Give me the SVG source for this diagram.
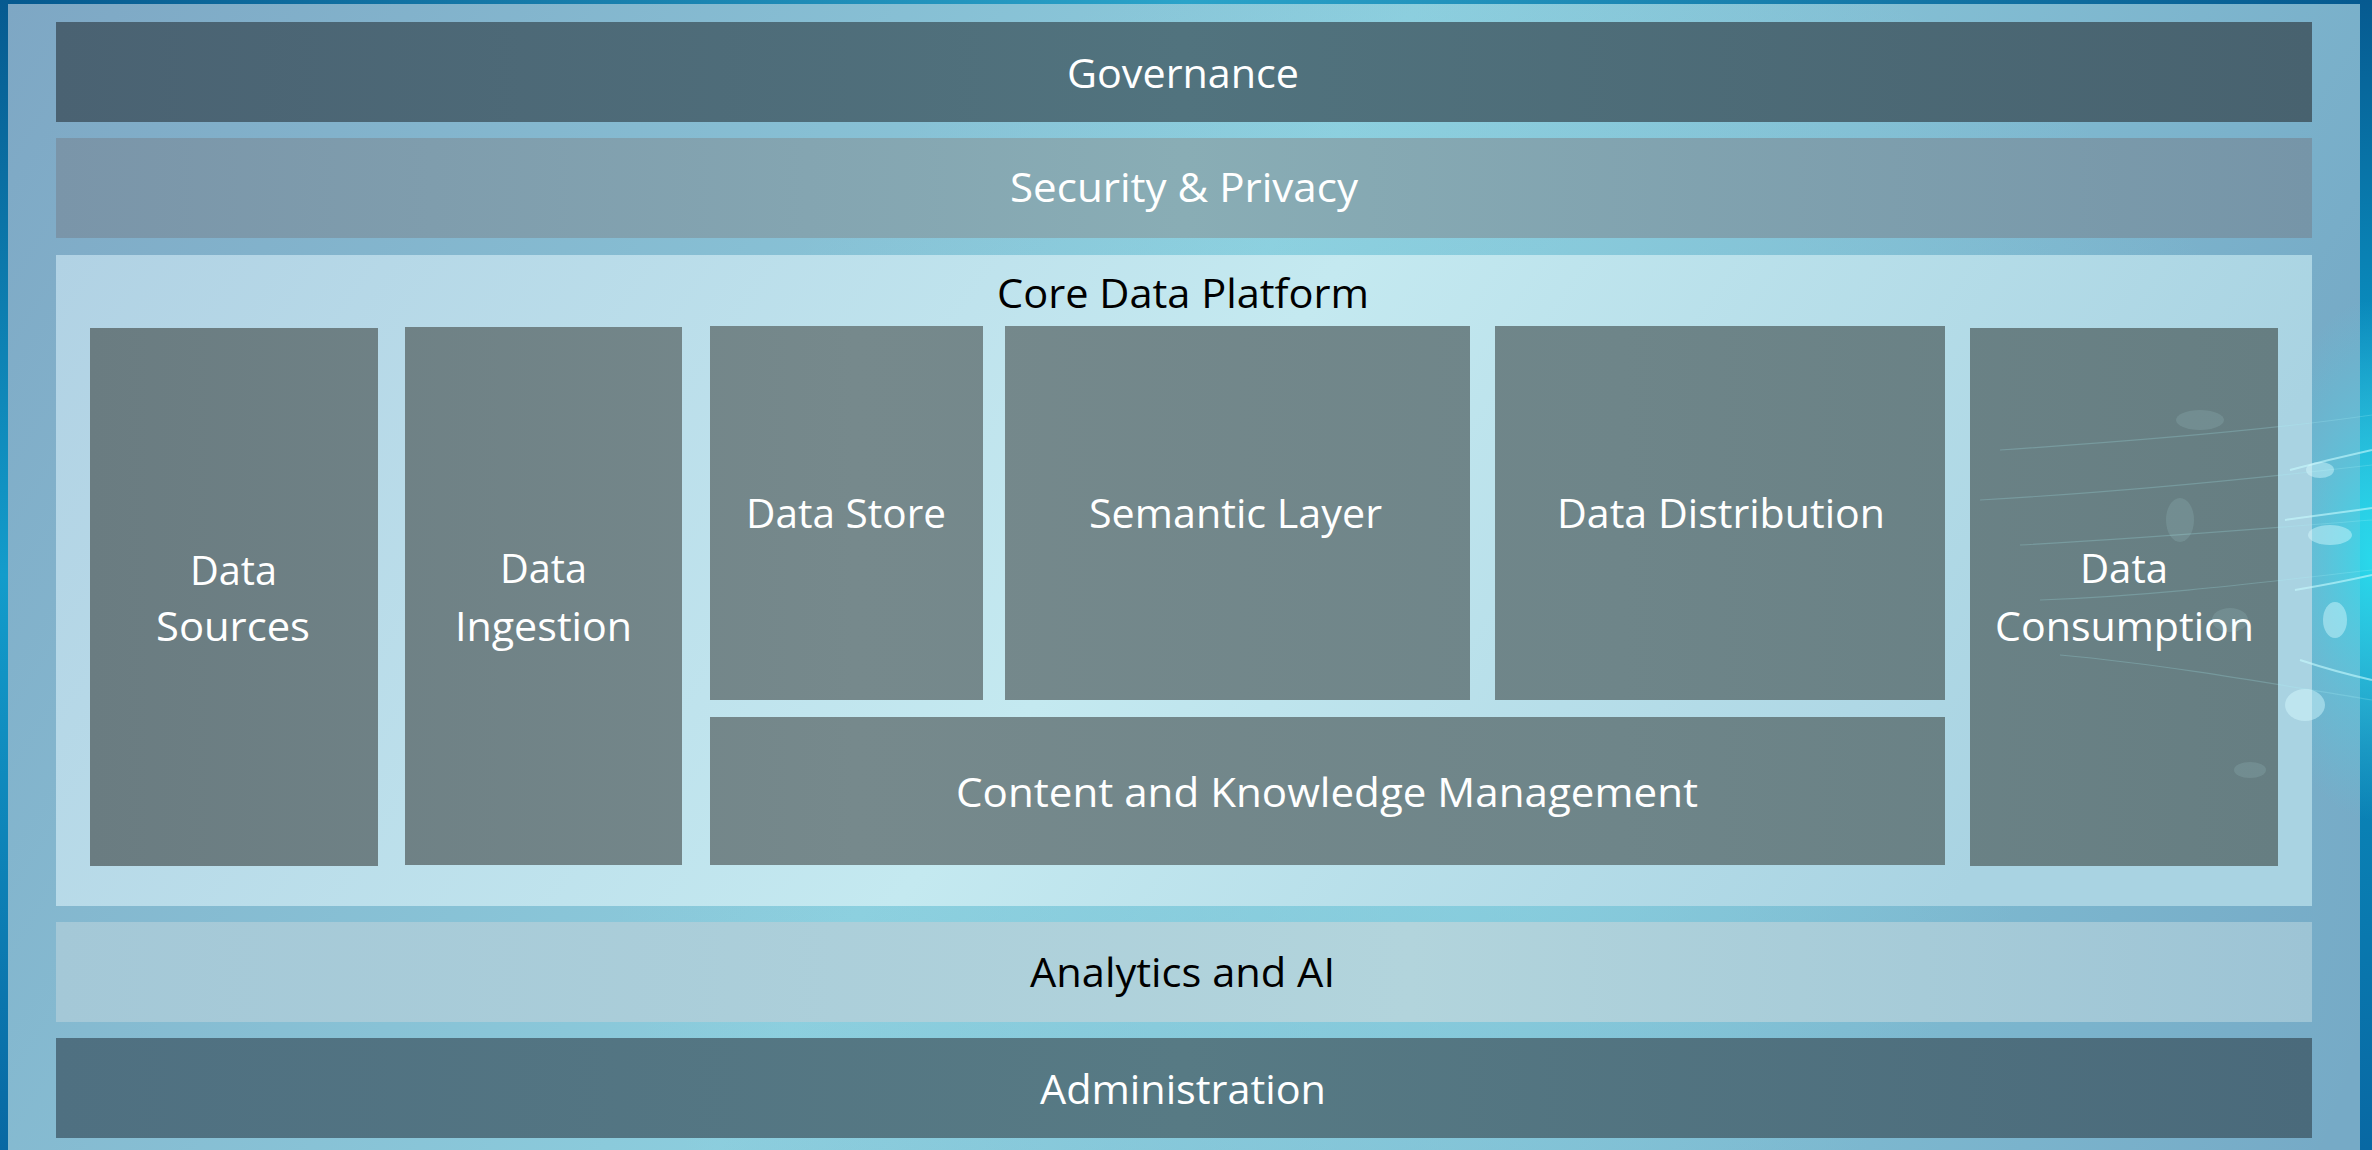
<svg xmlns="http://www.w3.org/2000/svg" width="2372" height="1150" viewBox="0 0 2372 1150">
  <defs>
    <linearGradient id="frameG" x1="0" y1="0" x2="1" y2="0">
      <stop offset="0" stop-color="#05598f"/>
      <stop offset="0.5" stop-color="#2aa3c9"/>
      <stop offset="1" stop-color="#05598f"/>
    </linearGradient>
    <linearGradient id="frameR" x1="0" y1="0" x2="0" y2="1">
      <stop offset="0" stop-color="#065a90"/>
      <stop offset="0.3" stop-color="#0a8fc0"/>
      <stop offset="0.45" stop-color="#05b8d8"/>
      <stop offset="0.65" stop-color="#0a86b8"/>
      <stop offset="1" stop-color="#0868a3"/>
    </linearGradient>
    <linearGradient id="frameL" x1="0" y1="0" x2="0" y2="1">
      <stop offset="0" stop-color="#065a90"/>
      <stop offset="0.5" stop-color="#139ccb"/>
      <stop offset="1" stop-color="#0868a3"/>
    </linearGradient>
    <linearGradient id="panelG" x1="0" y1="0" x2="1" y2="0.3">
      <stop offset="0" stop-color="#7ea7c4"/>
      <stop offset="0.55" stop-color="#8ccddd"/>
      <stop offset="1" stop-color="#76aac6"/>
    </linearGradient>
    <radialGradient id="panelGlow" cx="1500" cy="800" r="900" gradientUnits="userSpaceOnUse">
      <stop offset="0" stop-color="#8fe0ea" stop-opacity="0.55"/>
      <stop offset="1" stop-color="#8fe0ea" stop-opacity="0"/>
    </radialGradient>
    <radialGradient id="edgeGlow" cx="2372" cy="560" r="260" gradientUnits="userSpaceOnUse" gradientTransform="translate(2372 560) scale(0.45 1) translate(-2372 -560)">
      <stop offset="0" stop-color="#2fe0f0" stop-opacity="0.85"/>
      <stop offset="0.6" stop-color="#4fd4e8" stop-opacity="0.35"/>
      <stop offset="1" stop-color="#4fd4e8" stop-opacity="0"/>
    </radialGradient>
    <linearGradient id="govG" x1="0" y1="0" x2="1" y2="0">
      <stop offset="0" stop-color="#4a6272"/>
      <stop offset="0.5" stop-color="#51737e"/>
      <stop offset="1" stop-color="#48626f"/>
    </linearGradient>
    <linearGradient id="secG" x1="0" y1="0" x2="1" y2="0">
      <stop offset="0" stop-color="#7a95a9"/>
      <stop offset="0.5" stop-color="#89adb5"/>
      <stop offset="1" stop-color="#7695a8"/>
    </linearGradient>
    <linearGradient id="coreG" x1="0" y1="0" x2="1" y2="0.2">
      <stop offset="0" stop-color="#b1d2e4"/>
      <stop offset="0.55" stop-color="#c4e9f0"/>
      <stop offset="1" stop-color="#a9d3e2"/>
    </linearGradient>
    <linearGradient id="anaG" x1="0" y1="0" x2="1" y2="0">
      <stop offset="0" stop-color="#a4c8d7"/>
      <stop offset="0.6" stop-color="#b2d4dc"/>
      <stop offset="1" stop-color="#9dc4d5"/>
    </linearGradient>
    <linearGradient id="admG" x1="0" y1="0" x2="1" y2="0">
      <stop offset="0" stop-color="#4f7081"/>
      <stop offset="0.5" stop-color="#577a84"/>
      <stop offset="1" stop-color="#4a6a7b"/>
    </linearGradient>
    <linearGradient id="boxG" x1="90" y1="0" x2="2278" y2="0" gradientUnits="userSpaceOnUse">
      <stop offset="0" stop-color="#6a7c81"/>
      <stop offset="0.35" stop-color="#76898c"/>
      <stop offset="0.7" stop-color="#6e8589"/>
      <stop offset="1" stop-color="#667e82"/>
    </linearGradient>
    <style>
      .band { stroke: none; }
      .box { fill: url(#boxG); }
      .lbl { font-family: "Open Sans", "Noto Sans", "Liberation Sans", sans-serif; font-size: 41px; fill: #ffffff; text-anchor: middle; }
      .dark { fill: #000000; }
      .streak { stroke: #aef4fa; stroke-width: 1.2; fill: none; opacity: 0.22; }
      .streakB { stroke: #c8fbff; stroke-width: 2; fill: none; opacity: 0.6; }
      .bub { fill: #c8f4f8; opacity: 0.12; }
      .bubB { fill: #d8fbff; opacity: 0.45; }
    </style>
  </defs>

  <g id="background">
    <rect x="0" y="0" width="2372" height="1150" fill="url(#frameG)"/>
    <rect x="0" y="0" width="8" height="1150" fill="url(#frameL)"/>
    <rect x="2360" y="0" width="12" height="1150" fill="url(#frameR)"/>
    <rect x="8" y="4" width="2352" height="1150" fill="url(#panelG)"/>
    <rect x="8" y="4" width="2352" height="1150" fill="url(#panelGlow)"/>
    <rect x="2250" y="280" width="122" height="560" fill="url(#edgeGlow)"/>
  </g>

  <g id="governance">
    <rect class="band" x="56" y="22" width="2256" height="100" fill="url(#govG)"/>
    <text class="lbl" x="1183" y="88" textLength="232" lengthAdjust="spacingAndGlyphs">Governance</text>
  </g>

  <g id="security-privacy">
    <rect class="band" x="56" y="138" width="2256" height="100" fill="url(#secG)"/>
    <text class="lbl" x="1184" y="202" textLength="348" lengthAdjust="spacingAndGlyphs">Security &amp; Privacy</text>
  </g>

  <g id="core-data-platform">
    <rect class="band" x="56" y="255" width="2256" height="651" fill="url(#coreG)"/>
    <text class="lbl dark" x="1183" y="308" textLength="372" lengthAdjust="spacingAndGlyphs">Core Data Platform</text>
  </g>

  <g id="data-sources">
    <rect class="box" x="90" y="328" width="288" height="538"/>
    <text class="lbl" x="233.5" y="585" textLength="87" lengthAdjust="spacingAndGlyphs">Data</text>
    <text class="lbl" x="233" y="641" textLength="154" lengthAdjust="spacingAndGlyphs">Sources</text>
  </g>

  <g id="data-ingestion">
    <rect class="box" x="405" y="327" width="277" height="538"/>
    <text class="lbl" x="543.5" y="583" textLength="87" lengthAdjust="spacingAndGlyphs">Data</text>
    <text class="lbl" x="543.5" y="641" textLength="177" lengthAdjust="spacingAndGlyphs">Ingestion</text>
  </g>

  <g id="data-store">
    <rect class="box" x="710" y="326" width="273" height="374"/>
    <text class="lbl" x="846" y="528" textLength="200" lengthAdjust="spacingAndGlyphs">Data Store</text>
  </g>

  <g id="semantic-layer">
    <rect class="box" x="1005" y="326" width="465" height="374"/>
    <text class="lbl" x="1235.5" y="528" textLength="293" lengthAdjust="spacingAndGlyphs">Semantic Layer</text>
  </g>

  <g id="data-distribution">
    <rect class="box" x="1495" y="326" width="450" height="374"/>
    <text class="lbl" x="1721" y="528" textLength="328" lengthAdjust="spacingAndGlyphs">Data Distribution</text>
  </g>

  <g id="content-knowledge-management">
    <rect class="box" x="710" y="717" width="1235" height="148"/>
    <text class="lbl" x="1327" y="807" textLength="742" lengthAdjust="spacingAndGlyphs">Content and Knowledge Management</text>
  </g>

  <g id="data-consumption">
    <rect class="box" x="1970" y="328" width="308" height="538"/>
    <text class="lbl" x="2124" y="583" textLength="88" lengthAdjust="spacingAndGlyphs">Data</text>
    <text class="lbl" x="2124.5" y="641" textLength="259" lengthAdjust="spacingAndGlyphs">Consumption</text>
  </g>

  <g id="analytics-ai">
    <rect class="band" x="56" y="922" width="2256" height="100" fill="url(#anaG)"/>
    <text class="lbl dark" x="1182.5" y="987" textLength="305" lengthAdjust="spacingAndGlyphs">Analytics and AI</text>
  </g>

  <g id="administration">
    <rect class="band" x="56" y="1038" width="2256" height="100" fill="url(#admG)"/>
    <text class="lbl" x="1183" y="1104" textLength="286" lengthAdjust="spacingAndGlyphs">Administration</text>
  </g>

  <g id="decoration">
    <path class="streak" d="M2000 450 C2150 440 2270 430 2372 415"/>
    <path class="streak" d="M1980 500 C2120 492 2260 478 2372 465"/>
    <path class="streak" d="M2020 545 C2150 538 2270 528 2372 520"/>
    <path class="streak" d="M2040 600 C2170 595 2280 580 2372 570"/>
    <path class="streak" d="M2060 655 C2170 665 2280 685 2372 700"/>
    <path class="streakB" d="M2290 470 C2320 462 2345 456 2372 450"/>
    <path class="streakB" d="M2285 520 C2320 515 2345 512 2372 508"/>
    <path class="streakB" d="M2295 590 C2325 585 2350 580 2372 575"/>
    <path class="streakB" d="M2300 660 C2330 670 2350 675 2372 680"/>
    <ellipse class="bub" cx="2200" cy="420" rx="24" ry="10"/>
    <ellipse class="bub" cx="2180" cy="520" rx="14" ry="22"/>
    <ellipse class="bub" cx="2230" cy="620" rx="18" ry="12"/>
    <ellipse class="bub" cx="2250" cy="770" rx="16" ry="8"/>
    <ellipse class="bubB" cx="2330" cy="535" rx="22" ry="10"/>
    <ellipse class="bubB" cx="2305" cy="705" rx="20" ry="16"/>
    <ellipse class="bubB" cx="2335" cy="620" rx="12" ry="18"/>
    <ellipse class="bubB" cx="2320" cy="470" rx="14" ry="8"/>
  </g>

  <g id="connectors"/>
</svg>
